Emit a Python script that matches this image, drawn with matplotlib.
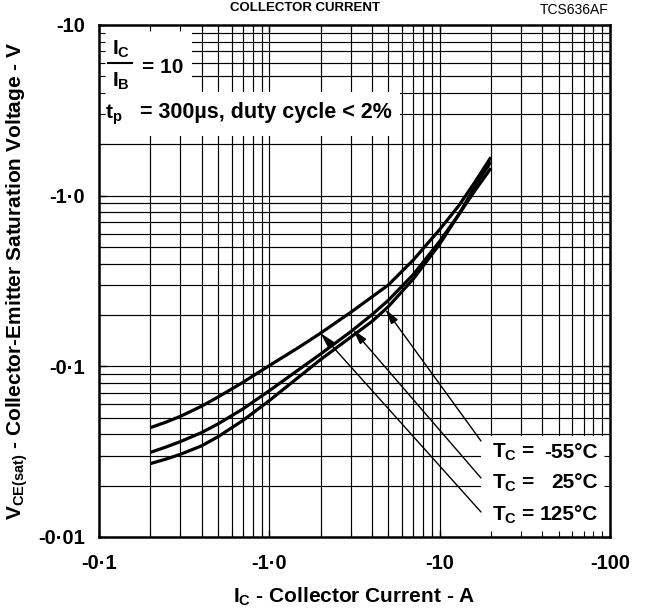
import numpy as np
import matplotlib
matplotlib.use('Agg')
import matplotlib.pyplot as plt
from matplotlib.patches import Rectangle
from matplotlib.lines import Line2D
from matplotlib.ticker import NullFormatter, LogLocator

# ---- data ----
I_A = [0.2, 0.25, 0.3, 0.4, 0.5, 0.7, 1.0, 1.5, 2.0, 3.0, 4.0, 5.0, 7.0, 10, 13, 16, 20]
v_125 = [0.0437, 0.0473, 0.0509, 0.0584, 0.0661, 0.0806, 0.1010, 0.1298, 0.1565, 0.207,
         0.255, 0.300, 0.420, 0.633, 0.878, 1.19, 1.68]
v_25 = [0.0313, 0.0338, 0.0362, 0.0409, 0.0460, 0.0563, 0.0720, 0.0962, 0.1181, 0.1594,
        0.2006, 0.244, 0.345, 0.540, 0.780, 1.06, 1.45]
v_m55 = [0.0269, 0.0287, 0.0305, 0.0342, 0.0387, 0.0482, 0.0630, 0.0871, 0.1096, 0.1480,
         0.1830, 0.224, 0.325, 0.520, 0.780, 1.12, 1.58]

x_ticks = [0.1, 1, 10, 100]
x_tick_labels = ['-0·1', '-1·0', '-10', '-100']
y_ticks = [0.01, 0.1, 1, 10]
y_tick_labels = ['-0·01', '-0·1', '-1·0', '-10']
legend_temps = ['-55°C', '25°C', '125°C']
arrow_currents = [4.8, 3.1, 2.0]   # point on each curve where the label arrow lands

plt.rcParams['font.family'] = ['Liberation Sans', 'DejaVu Sans']
plt.rcParams['font.weight'] = 'bold'
plt.rcParams['mathtext.fontset'] = 'custom'
plt.rcParams['mathtext.rm'] = 'Liberation Sans:bold'
plt.rcParams['mathtext.bf'] = 'Liberation Sans:bold'
plt.rcParams['mathtext.it'] = 'Liberation Sans:bold'
plt.rcParams['mathtext.sf'] = 'Liberation Sans:bold'
plt.rcParams['mathtext.default'] = 'bf'

W, H = 645, 613
L, R, T, B = 99, 610, 25, 537
fig = plt.figure(figsize=(W / 100, H / 100), dpi=100)
ax = fig.add_axes([L / W, 1 - B / H, (R - L) / W, (B - T) / H])
ax.set_xscale('log')
ax.set_yscale('log')
ax.set_xlim(0.1, 100)
ax.set_ylim(0.01, 10)

def axx(px):
    return (px - L) / (R - L)

def axy(py):
    return (B - py) / (B - T)

# grid (drawn below the white text panels)
for e in range(-1, 2):
    for m in range(1, 10):
        v = m * 10.0 ** e
        if 0.1 < v < 100:
            ax.axvline(v, color='black', lw=0.85, zorder=0.5)
for e in range(-2, 1):
    for m in range(1, 10):
        v = m * 10.0 ** e
        if 0.01 < v < 10:
            ax.axhline(v, color='black', lw=0.85, zorder=0.5)

# white panels behind annotation text
for (x0, y0, x1, y1) in [(L, T, 192, 92), (L, 92, 400, 136), (481, 436, R, B)]:
    ax.add_patch(Rectangle((axx(x0), axy(y1)), axx(x1) - axx(x0), axy(y0) - axy(y1),
                           transform=ax.transAxes, facecolor='white',
                           edgecolor='none', zorder=1))

# curves
for v in (v_125, v_25, v_m55):
    ax.plot(I_A, v, color='black', lw=2.3, solid_capstyle='butt',
            solid_joinstyle='round', zorder=3)

# ticks
ax.set_xticks(x_ticks)
ax.set_xticklabels(x_tick_labels)
ax.set_yticks(y_ticks)
ax.set_yticklabels(y_tick_labels)
ax.xaxis.set_minor_locator(LogLocator(base=10, subs=np.arange(2, 10)))
ax.yaxis.set_minor_locator(LogLocator(base=10, subs=np.arange(2, 10)))
ax.xaxis.set_minor_formatter(NullFormatter())
ax.yaxis.set_minor_formatter(NullFormatter())
ax.tick_params(which='both', direction='in', top=True, right=True, color='black')
ax.tick_params(which='major', length=5, width=1.0, labelsize=14.5)
ax.tick_params(which='minor', length=4, width=0.8)
ax.tick_params(axis='x', which='major', pad=12)
ax.tick_params(axis='y', which='major', pad=10)
for s in ax.spines.values():
    s.set_linewidth(1.8)

# axis labels
fig.text(354.5 / W, 1 - 597 / H, r'$I_C$ - Collector Current - A', ha='center',
         va='center', fontsize=15, fontweight='bold')
fig.text(17 / W, 1 - 281 / H,
         r'$V_{CE(sat)}$ - Collector-Emitter Saturation Voltage - V',
         ha='center', va='center', rotation=90, fontsize=15, fontweight='bold')

# top texts
fig.text(609 / W, 1 - 10 / H, 'TCS636AF', ha='right', va='center', fontsize=10,
         fontweight='normal')
fig.text(304.5 / W, 1 - 11 / H, 'COLLECTOR CURRENT', ha='center', va='baseline',
         fontsize=9.5, fontweight='bold')

# Ic/Ib = 10
ax.text(axx(112), axy(55), r'$I_C$', transform=ax.transAxes, ha='left',
        va='baseline', fontsize=15)
ax.text(axx(112), axy(86.7), r'$I_B$', transform=ax.transAxes, ha='left',
        va='baseline', fontsize=15)
ax.add_line(Line2D([axx(108), axx(132)], [axy(62.7), axy(62.7)],
                   transform=ax.transAxes, color='black', lw=1.5, zorder=4))
ax.text(axx(142), axy(73), '= 10', transform=ax.transAxes, ha='left',
        va='baseline', fontsize=15)
ax.text(axx(105), axy(118.3), r'$t_p$', transform=ax.transAxes, ha='left',
        va='baseline', fontsize=15)
ax.text(axx(140), axy(118.3), '= 300µs, duty cycle < 2%',
        transform=ax.transAxes, ha='left', va='baseline', fontsize=15.5)

# temperature labels with arrows
label_y = [452, 483, 515]
series = [v_m55, v_25, v_125]
start_y = [441, 478, 512]
for temp, ly, vs, cur, sy in zip(legend_temps, label_y, series, arrow_currents, start_y):
    ax.text(axx(492), axy(ly), r'$T_C$ =', transform=ax.transAxes, ha='left',
            va='center', fontsize=15)
    ax.text(axx(598), axy(ly), temp, transform=ax.transAxes, ha='right',
            va='center', fontsize=15)
    vy = 10 ** np.interp(np.log10(cur), np.log10(I_A), np.log10(vs))
    ax.annotate('', xy=(cur, vy), xycoords='data',
                xytext=(axx(481), axy(sy)), textcoords='axes fraction',
                arrowprops=dict(arrowstyle='-|>,head_length=0.6,head_width=0.16',
                                mutation_scale=15, color='black', lw=1.0,
                                shrinkA=0, shrinkB=0), zorder=4)

fig.savefig('out.png', dpi=100)
